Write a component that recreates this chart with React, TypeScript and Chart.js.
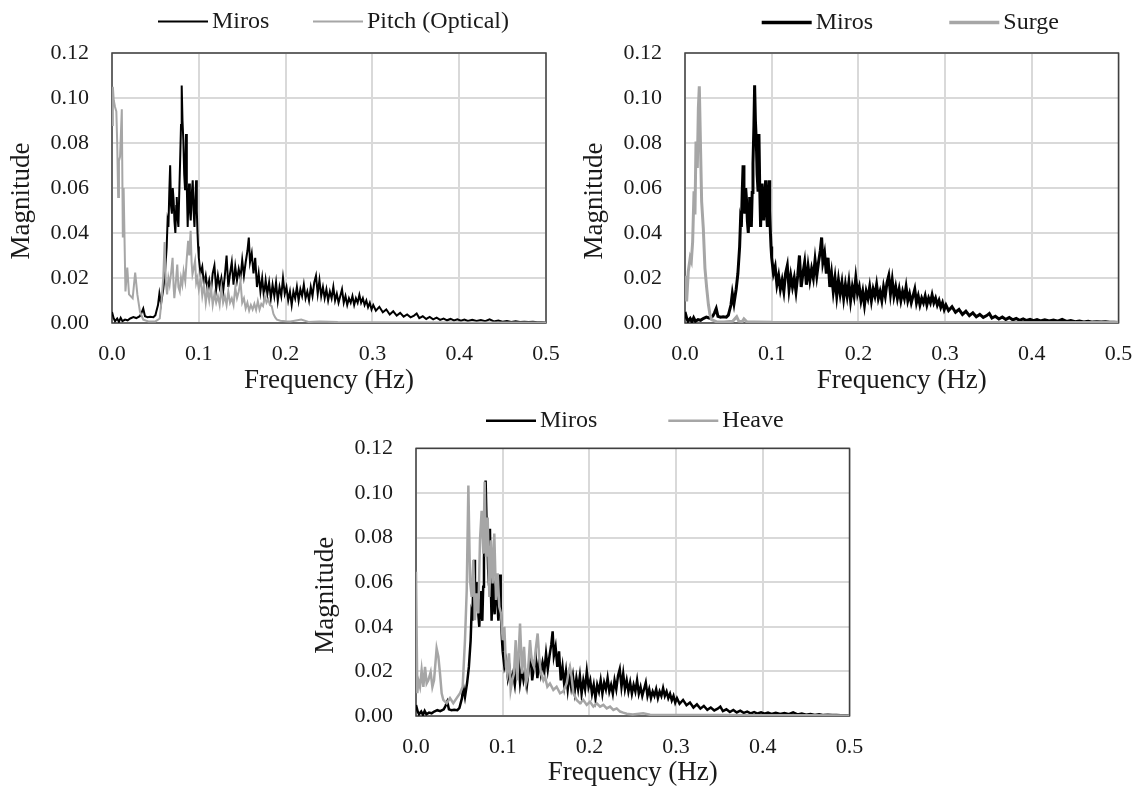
import React, { useEffect, useRef } from 'react';
import { Chart, registerables } from 'chart.js';

Chart.register(...registerables);

// ---------- axis ticks ----------
const xTickValues = [0, 0.1, 0.2, 0.3, 0.4, 0.5];
const xTickLabels = ['0.0', '0.1', '0.2', '0.3', '0.4', '0.5'];
const yTickValues = [0, 0.02, 0.04, 0.06, 0.08, 0.1, 0.12];
const yTickLabels = ['0.00', '0.02', '0.04', '0.06', '0.08', '0.10', '0.12'];

// ---------- Miros spectrum (same in all three panels) ----------
const mirosFreq = [
  0, 0.002, 0.0035, 0.006, 0.008, 0.010, 0.012, 0.015, 0.018, 0.021, 0.0246, 0.028, 0.032, 0.034, 0.036, 0.038,
  0.041, 0.044, 0.0477, 0.050, 0.051, 0.053, 0.0546, 0.0565, 0.059, 0.061,
  0.063, 0.064, 0.065, 0.066, 0.067, 0.068, 0.069, 0.070, 0.071, 0.072, 0.073, 0.074, 0.0746, 0.0755, 0.0765, 0.0775,
  0.0784, 0.0795, 0.0803, 0.0812, 0.0822, 0.0832, 0.0842, 0.0853, 0.0862, 0.0872, 0.088, 0.0888, 0.0897, 0.0907,
  0.092, 0.093, 0.094, 0.095, 0.096, 0.0969, 0.0977, 0.0984, 0.0992,
  0.100, 0.102, 0.104, 0.106, 0.108, 0.110, 0.112, 0.114, 0.116, 0.118, 0.120, 0.122, 0.124, 0.126, 0.128, 0.130,
  0.132, 0.134, 0.136, 0.138, 0.140, 0.142, 0.144, 0.146, 0.148, 0.150, 0.152, 0.154, 0.156, 0.1576, 0.159, 0.161,
  0.163, 0.165, 0.167, 0.169, 0.171, 0.173, 0.175, 0.177, 0.179, 0.181, 0.183, 0.185, 0.187, 0.189, 0.191, 0.193,
  0.195, 0.197, 0.199, 0.201, 0.203, 0.205, 0.207, 0.209, 0.211, 0.213, 0.215, 0.217, 0.219, 0.221, 0.223, 0.225,
  0.227, 0.229, 0.231, 0.233, 0.235, 0.237, 0.239, 0.241, 0.243, 0.245, 0.247, 0.249, 0.251, 0.253, 0.255, 0.257,
  0.259, 0.261, 0.263, 0.265, 0.267, 0.269, 0.271, 0.273, 0.275, 0.277, 0.279, 0.281, 0.283, 0.285, 0.287, 0.289,
  0.291, 0.293, 0.295, 0.297, 0.299, 0.301, 0.304, 0.308, 0.312, 0.316, 0.320, 0.324, 0.328, 0.332, 0.336, 0.340,
  0.344, 0.348, 0.351, 0.354, 0.358, 0.362, 0.366, 0.370, 0.374, 0.378, 0.382, 0.386, 0.390, 0.394, 0.398, 0.402,
  0.406, 0.41, 0.415, 0.42, 0.425, 0.43, 0.435, 0.44, 0.445, 0.45, 0.455, 0.46, 0.465, 0.47, 0.475, 0.48, 0.485,
  0.49, 0.495, 0.5,
];
const mirosMag = [
  0.0049, 0.002, 0.0008, 0.002, 0.0005, 0.0023, 0.0008, 0.0015, 0.0012, 0.002, 0.0026, 0.0022, 0.003, 0.0045, 0.0064, 0.003,
  0.0026, 0.0028, 0.0026, 0.0035, 0.005, 0.008, 0.0131, 0.0086, 0.015, 0.022,
  0.0338, 0.045, 0.0427, 0.058, 0.0701, 0.052, 0.0486, 0.060, 0.0545, 0.045, 0.040, 0.052, 0.056, 0.047, 0.0427, 0.058,
  0.0709, 0.088, 0.1056, 0.09, 0.0812, 0.066, 0.059, 0.084, 0.06, 0.0427, 0.055, 0.062, 0.05, 0.0456,
  0.058, 0.0634, 0.05, 0.0427, 0.055, 0.0634, 0.05, 0.0412, 0.034,
  0.029, 0.022, 0.025, 0.017, 0.021, 0.015, 0.019, 0.014, 0.022, 0.0255, 0.015, 0.021, 0.016, 0.020, 0.014, 0.021,
  0.030, 0.016, 0.022, 0.027, 0.017, 0.025, 0.019, 0.024, 0.020, 0.028, 0.021, 0.027, 0.032, 0.038, 0.027, 0.031,
  0.022, 0.029, 0.016, 0.022, 0.014, 0.020, 0.012, 0.019, 0.013, 0.018, 0.011, 0.017, 0.012, 0.018, 0.010, 0.016,
  0.012, 0.020, 0.013, 0.016, 0.010, 0.014, 0.008, 0.014, 0.011, 0.016, 0.010, 0.015, 0.012, 0.017, 0.011, 0.014,
  0.010, 0.016, 0.012, 0.018, 0.021, 0.013, 0.019, 0.012, 0.016, 0.011, 0.015, 0.010, 0.014, 0.011, 0.016, 0.010,
  0.013, 0.009, 0.012, 0.015, 0.009, 0.012, 0.008, 0.011, 0.009, 0.012, 0.008, 0.011, 0.009, 0.0125, 0.009, 0.011,
  0.008, 0.010, 0.007, 0.009, 0.006, 0.008, 0.0055, 0.0072, 0.0048, 0.006, 0.0038, 0.0052, 0.0033, 0.0045, 0.0028, 0.0038,
  0.0025, 0.0033, 0.0042, 0.0022, 0.003, 0.0018, 0.0027, 0.0016, 0.0024, 0.0014, 0.002, 0.0012, 0.0018, 0.0011, 0.0016, 0.001,
  0.0015, 0.0009, 0.0014, 0.0009, 0.0013, 0.0008, 0.0016, 0.0007, 0.0011, 0.0006, 0.0009, 0.0005, 0.0008, 0.0004, 0.0006, 0.0004, 0.0005,
  0.0003, 0.0003, 0.0002,
];

// ---------- Pitch (Optical) ----------
const pitchFreq = [
  0, 0.001, 0.002, 0.0035, 0.005, 0.006, 0.0071, 0.008, 0.0093, 0.0113, 0.0125, 0.0134, 0.0155, 0.0176, 0.0196,
  0.0238, 0.0267, 0.0292, 0.0322, 0.036, 0.042, 0.05, 0.055, 0.057, 0.059, 0.0606, 0.062, 0.0635, 0.065, 0.0664,
  0.068, 0.0698, 0.071, 0.0718, 0.0735, 0.0752, 0.0765, 0.0781, 0.0795, 0.081, 0.0825, 0.0844, 0.086, 0.0877,
  0.089, 0.0906, 0.0917, 0.0927, 0.094, 0.0957, 0.097, 0.0982,
  0.100, 0.102, 0.104, 0.106, 0.108, 0.110, 0.112, 0.114, 0.116, 0.118, 0.120, 0.122, 0.124, 0.126, 0.128, 0.130,
  0.132, 0.134, 0.136, 0.138, 0.140, 0.142, 0.144, 0.146, 0.148, 0.150, 0.152, 0.154, 0.156, 0.158, 0.160, 0.162,
  0.164, 0.166, 0.168, 0.170, 0.172, 0.174, 0.176, 0.178, 0.180, 0.182, 0.184, 0.186, 0.188, 0.190, 0.194, 0.2,
  0.2055, 0.212, 0.218, 0.2264, 0.239, 0.26, 0.3, 0.4, 0.5,
];
const pitchMag = [
  0.088, 0.105, 0.099, 0.096, 0.094, 0.080, 0.056, 0.072, 0.074, 0.095, 0.038, 0.060, 0.014, 0.0246, 0.0127,
  0.011, 0.0224, 0.0127, 0.005, 0.0015, 0.0007, 0.0007, 0.002, 0.0097, 0.02, 0.036, 0.018, 0.0127, 0.02, 0.017,
  0.022, 0.029, 0.016, 0.011, 0.018, 0.026, 0.016, 0.014, 0.02, 0.017, 0.023, 0.0186, 0.028, 0.0365,
  0.03, 0.041, 0.027, 0.0216, 0.024, 0.0276, 0.018, 0.020,
  0.015, 0.020, 0.012, 0.017, 0.009, 0.015, 0.010, 0.016, 0.008, 0.013, 0.009, 0.012, 0.008, 0.0157, 0.009, 0.012,
  0.008, 0.014, 0.009, 0.011, 0.008, 0.0157, 0.011, 0.014, 0.0186, 0.009, 0.011, 0.0065, 0.009, 0.0055, 0.008, 0.006,
  0.0085, 0.0058, 0.0097, 0.006, 0.0085, 0.0075, 0.012, 0.009, 0.0105, 0.008, 0.0075, 0.004, 0.0025, 0.0015, 0.001, 0.0008,
  0.0007, 0.0011, 0.0015, 0.0005, 0.0007, 0.0004, 0.0003, 0.0002, 0.0002,
];

// ---------- Surge ----------
const surgeFreq = [
  0, 0.0019, 0.0038, 0.006, 0.0073, 0.0088, 0.0104, 0.0115, 0.0127, 0.0142, 0.0154, 0.0165, 0.018, 0.0192, 0.0211,
  0.023, 0.025, 0.027, 0.0288, 0.0307, 0.0365, 0.045, 0.055, 0.0596, 0.062, 0.066, 0.068, 0.071, 0.08, 0.1, 0.2, 0.3, 0.5,
];
const surgeMag = [
  0.021, 0.0096, 0.023, 0.029, 0.0275, 0.036, 0.0585, 0.0482, 0.0807, 0.0689, 0.0955, 0.1052, 0.0763, 0.054, 0.0422,
  0.0244, 0.0156, 0.0082, 0.0037, 0.0015, 0.0005, 0.0004, 0.0008, 0.0028, 0.0008, 0.0006, 0.0018, 0.0006, 0.0005, 0.0003, 0.0002, 0.0002, 0.0002,
];

// ---------- Heave ----------
const heaveFreq = [
  0, 0.0015, 0.0027, 0.0046, 0.0065, 0.0085, 0.0104, 0.0123, 0.0142, 0.0169, 0.0189, 0.0208, 0.0238, 0.0258, 0.0277,
  0.0296, 0.0315, 0.0354, 0.0392, 0.043, 0.0469, 0.0508, 0.0538, 0.0565, 0.0585, 0.0604, 0.0623, 0.0642, 0.0661,
  0.068, 0.07, 0.0719, 0.0738, 0.0757, 0.0777, 0.0792, 0.0807, 0.0827, 0.0846, 0.0865, 0.0884, 0.0903, 0.0923,
  0.0942, 0.0961, 0.098, 0.1, 0.1019, 0.1038, 0.1053, 0.1073, 0.1092, 0.1111, 0.113, 0.115, 0.1169, 0.12, 0.1223,
  0.1246, 0.1269, 0.1288, 0.1315, 0.1334, 0.1361, 0.138, 0.1403, 0.1423, 0.1442, 0.1469, 0.1488, 0.1515, 0.1545,
  0.1584, 0.1622, 0.1661, 0.1699, 0.1738, 0.1757, 0.1776, 0.1795, 0.1815, 0.1853, 0.1892, 0.193, 0.1969, 0.2007,
  0.2046, 0.2084, 0.2123, 0.2161, 0.22, 0.2238, 0.2276, 0.2315, 0.2353, 0.239, 0.243, 0.25, 0.262, 0.27, 0.3, 0.35,
  0.4, 0.45, 0.5,
];
const heaveMag = [
  0.0647, 0.0102, 0.016, 0.0131, 0.0206, 0.0131, 0.022, 0.0146, 0.016, 0.0197, 0.0131, 0.016, 0.0303, 0.0266, 0.019,
  0.0102, 0.0072, 0.0057, 0.008, 0.0057, 0.008, 0.0102, 0.0131, 0.034, 0.0564, 0.1033, 0.0609, 0.0534, 0.0699,
  0.043, 0.055, 0.046, 0.0788, 0.092, 0.0728, 0.105, 0.0714, 0.089, 0.0534, 0.0788, 0.0594, 0.0818, 0.052,
  0.064, 0.049, 0.046, 0.034, 0.04, 0.022, 0.019, 0.0281, 0.0117, 0.016, 0.019, 0.034, 0.016, 0.0415, 0.019,
  0.031, 0.0146, 0.0176, 0.034, 0.025, 0.022, 0.0296, 0.037, 0.025, 0.019, 0.016, 0.0176, 0.0131, 0.0146,
  0.0117, 0.0131, 0.0102, 0.011, 0.0146, 0.019, 0.022, 0.0176, 0.0102, 0.0072, 0.0057, 0.0072, 0.005, 0.0064,
  0.0042, 0.0057, 0.0042, 0.005, 0.0034, 0.0042, 0.0027, 0.0034, 0.002, 0.0015, 0.001, 0.0007, 0.0012, 0.0006, 0.0005, 0.0004,
  0.0003, 0.0003, 0.0002,
];

const FONT = "'Liberation Serif', 'Times New Roman', serif";
const BLACK = '#000000';
const GRAY = '#a6a6a6';
const TEXT = '#1a1a1a';

const toPoints = (xs: number[], ys: number[]) => xs.map((x, i) => ({ x, y: ys[i] }));

const framePlugin = {
  id: 'frame',
  beforeDatasetsDraw(chart: any, _args: any, opts: any) {
    const { ctx, chartArea: a } = chart;
    ctx.save();
    ctx.strokeStyle = opts.color;
    ctx.lineWidth = opts.width;
    ctx.strokeRect(a.left, a.top, a.right - a.left, a.bottom - a.top);
    ctx.restore();
  },
};

const yTitlePlugin = {
  id: 'yTitle',
  afterDraw(chart: any, _args: any, opts: any) {
    const { ctx, chartArea: a } = chart;
    ctx.save();
    ctx.font = `${opts.fontSize}px ${FONT}`;
    ctx.fillStyle = TEXT;
    ctx.textAlign = 'center';
    ctx.textBaseline = 'middle';
    ctx.translate(a.left - opts.dx, (a.top + a.bottom) / 2 + opts.dy);
    ctx.rotate(-Math.PI / 2);
    ctx.fillText(opts.text, 0, 0);
    ctx.restore();
  },
};

const lineLegendPlugin = {
  id: 'lineLegend',
  afterDraw(chart: any, _args: any, opts: any) {
    const ctx = chart.ctx;
    ctx.save();
    ctx.font = `${opts.fontSize}px ${FONT}`;
    ctx.textBaseline = 'middle';
    ctx.textAlign = 'left';
    ctx.fillStyle = TEXT;
    opts.starts.forEach((sx: number, i: number) => {
      const ds = chart.data.datasets[i];
      ctx.strokeStyle = ds.borderColor;
      ctx.lineWidth = opts.lineWidth;
      ctx.beginPath();
      ctx.moveTo(sx, opts.y);
      ctx.lineTo(sx + opts.lineLength, opts.y);
      ctx.stroke();
      ctx.fillText(ds.label, sx + opts.lineLength + opts.gap, opts.y);
    });
    ctx.restore();
  },
};

type PanelProps = {
  left: number;
  top: number;
  width: number;
  height: number;
  area: { t: number; r: number; b: number };
  otherLabel: string;
  otherFreq: number[];
  otherMag: number[];
  lineWidth: number;
  legendStarts: number[];
  legendY: number;
  legendLineWidth: number;
};

function Panel(p: PanelProps) {
  const ref = useRef<HTMLCanvasElement>(null);
  useEffect(() => {
    if (!ref.current) return;
    const chart = new Chart(ref.current, {
      type: 'line',
      data: {
        datasets: [
          {
            label: 'Miros',
            data: toPoints(mirosFreq, mirosMag),
            borderColor: BLACK,
            backgroundColor: BLACK,
            borderWidth: p.lineWidth,
            pointRadius: 0,
            tension: 0,
            order: 1,
          },
          {
            label: p.otherLabel,
            data: toPoints(p.otherFreq, p.otherMag),
            borderColor: GRAY,
            backgroundColor: GRAY,
            borderWidth: p.lineWidth,
            pointRadius: 0,
            tension: 0,
            order: 0,
          },
        ],
      },
      options: {
        animation: false,
        responsive: false,
        maintainAspectRatio: false,
        devicePixelRatio: 1,
        events: [],
        layout: { padding: { left: 0, top: p.area.t, right: p.width - p.area.r, bottom: 0 } },
        plugins: {
          legend: { display: false },
          tooltip: { enabled: false },
          frame: { color: '#404040', width: 1.5 },
          yTitle: { text: 'Magnitude', fontSize: 27, dx: 90.3, dy: 13 },
          lineLegend: {
            starts: p.legendStarts,
            y: p.legendY,
            lineLength: 50,
            gap: 4,
            lineWidth: p.legendLineWidth,
            fontSize: 24,
          },
        } as any,
        scales: {
          x: {
            type: 'linear',
            min: 0,
            max: 0.5,
            afterBuildTicks: (s: any) => {
              s.ticks = xTickValues.map((v) => ({ value: v }));
            },
            afterFit: (s: any) => {
              s.height = p.height - p.area.b;
              s.paddingLeft = 0;
              s.paddingRight = 0;
            },
            grid: { color: '#d9d9d9', lineWidth: 2, drawTicks: false },
            border: { display: false },
            ticks: {
              padding: 18,
              color: TEXT,
              font: { family: FONT, size: 22 },
              maxRotation: 0,
              callback: (_v: any, i: number) => xTickLabels[i],
            },
            title: {
              display: true,
              text: 'Frequency (Hz)',
              color: TEXT,
              font: { family: FONT, size: 27 },
              padding: { top: 0, bottom: -2 },
            },
          },
          y: {
            type: 'linear',
            min: 0,
            max: 0.12,
            afterBuildTicks: (s: any) => {
              s.ticks = yTickValues.map((v) => ({ value: v }));
            },
            afterFit: (s: any) => {
              s.width = 112;
              s.paddingTop = 0;
              s.paddingBottom = 0;
            },
            grid: { color: '#d9d9d9', lineWidth: 2, drawTicks: false },
            border: { display: false },
            ticks: {
              padding: 23,
              color: TEXT,
              font: { family: FONT, size: 22 },
              callback: (_v: any, i: number) => yTickLabels[i],
            },
            title: { display: false },
          },
        },
      },
      plugins: [framePlugin, yTitlePlugin, lineLegendPlugin],
    } as any);
    return () => chart.destroy();
  }, []);
  return (
    <canvas
      ref={ref}
      width={p.width}
      height={p.height}
      style={{ position: 'absolute', left: p.left, top: p.top, width: p.width, height: p.height }}
    />
  );
}

export default function App() {
  return (
    <div
      style={{
        position: 'absolute',
        left: 0,
        top: 0,
        width: 1136,
        height: 787,
        overflow: 'hidden',
        background: '#ffffff',
      }}
    >
      <Panel
        left={0}
        top={0}
        width={570}
        height={395}
        area={{ t: 53, r: 546, b: 323 }}
        otherLabel="Pitch (Optical)"
        otherFreq={pitchFreq}
        otherMag={pitchMag}
        lineWidth={2}
        legendStarts={[158, 313]}
        legendY={21.5}
        legendLineWidth={2}
      />
      <Panel
        left={573}
        top={0}
        width={563}
        height={395}
        area={{ t: 53, r: 545.5, b: 323 }}
        otherLabel="Surge"
        otherFreq={surgeFreq}
        otherMag={surgeMag}
        lineWidth={3}
        legendStarts={[188.7, 376.3]}
        legendY={22.5}
        legendLineWidth={3.5}
      />
      <Panel
        left={304}
        top={394}
        width={566}
        height={393}
        area={{ t: 54.4, r: 545.5, b: 322 }}
        otherLabel="Heave"
        otherFreq={heaveFreq}
        otherMag={heaveMag}
        lineWidth={2.5}
        legendStarts={[182, 364.3]}
        legendY={26.7}
        legendLineWidth={2.5}
      />
    </div>
  );
}
